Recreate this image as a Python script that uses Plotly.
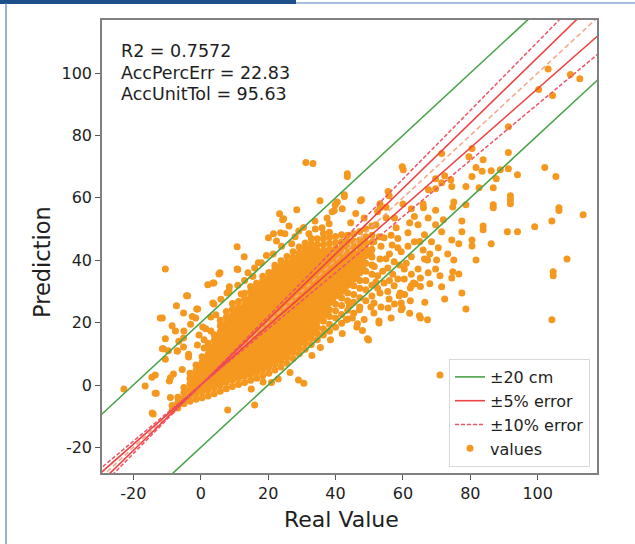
import plotly.graph_objects as go

# ---------------- data ----------------
# dense core of the cloud: (x, [y values]) columns
CORE_COLUMNS = [
    (-8.5, [-8.2, -6.6]),
    (-6.8, [-7.4, -5.6, -3.9]),
    (-5.0, [-6.0, -4.3, -2.5, -0.8]),
    (-3.2, [-5.2, -3.4, -1.6, 0.3, 2.1, 3.8]),
    (-1.4, [-4.6, -2.8, -1.0, 0.9, 2.8, 4.6, 6.4]),
    (0.4, [-4.1, -2.2, -0.3, 1.6, 3.5, 5.4, 7.3, 9.1]),
    (2.2, [-3.5, -1.6, 0.4, 2.3, 4.2, 6.1, 8.0, 9.9, 11.8, 13.4]),
    (4.0, [-2.8, -0.9, 1.0, 2.9, 4.8, 6.7, 8.6, 10.5, 12.4, 14.3, 16.1]),
    (5.8, [-2.0, 0.0, 1.9, 3.8, 5.7, 7.6, 9.5, 11.4, 13.3, 15.2, 17.1, 19.0, 20.8]),
    (7.6, [-1.2, 0.8, 2.7, 4.6, 6.5, 8.4, 10.3, 12.2, 14.1, 16.0, 17.9, 19.8, 21.7, 23.6]),
    (9.4, [-0.5, 1.5, 3.4, 5.3, 7.2, 9.1, 11.0, 12.9, 14.8, 16.7, 18.6, 20.5, 22.4, 24.3, 26.1]),
    (11.2, [0.2, 2.1, 4.0, 5.9, 7.8, 9.7, 11.6, 13.5, 15.4, 17.3, 19.2, 21.1, 23.0, 24.9, 26.8]),
    (13.0, [0.8, 2.8, 4.7, 6.6, 8.5, 10.4, 12.3, 14.2, 16.1, 18.0, 19.9, 21.8, 23.7, 25.6, 27.5, 29.4]),
    (14.8, [1.5, 3.4, 5.3, 7.2, 9.1, 11.0, 12.9, 14.8, 16.7, 18.6, 20.5, 22.4, 24.3, 26.2, 28.1, 30.0, 31.6]),
    (16.6, [2.2, 4.1, 6.0, 7.9, 9.8, 11.7, 13.6, 15.5, 17.4, 19.3, 21.2, 23.1, 25.0, 26.9, 28.8, 30.7, 32.6]),
    (18.4, [3.0, 4.9, 6.8, 8.7, 10.6, 12.5, 14.4, 16.3, 18.2, 20.1, 22.0, 23.9, 25.8, 27.7, 29.6, 31.5, 33.4, 34.9]),
    (20.2, [3.8, 5.7, 7.6, 9.5, 11.4, 13.3, 15.2, 17.1, 19.0, 20.9, 22.8, 24.7, 26.6, 28.5, 30.4, 32.3, 34.2, 36.1]),
    (22.0, [4.8, 6.7, 8.6, 10.5, 12.4, 14.3, 16.2, 18.1, 20.0, 21.9, 23.8, 25.7, 27.6, 29.5, 31.4, 33.3, 35.2, 37.1, 38.4]),
    (23.8, [5.8, 7.7, 9.6, 11.5, 13.4, 15.3, 17.2, 19.1, 21.0, 22.9, 24.8, 26.7, 28.6, 30.5, 32.4, 34.3, 36.2, 38.1, 39.8]),
    (25.6, [7.0, 8.9, 10.8, 12.7, 14.6, 16.5, 18.4, 20.3, 22.2, 24.1, 26.0, 27.9, 29.8, 31.7, 33.6, 35.5, 37.4, 39.3, 41.2]),
    (27.4, [8.5, 10.4, 12.3, 14.2, 16.1, 18.0, 19.9, 21.8, 23.7, 25.6, 27.5, 29.4, 31.3, 33.2, 35.1, 37.0, 38.9, 40.8, 42.7]),
    (29.2, [10.0, 11.9, 13.8, 15.7, 17.6, 19.5, 21.4, 23.3, 25.2, 27.1, 29.0, 30.9, 32.8, 34.7, 36.6, 38.5, 40.4, 42.3, 44.2]),
    (31.0, [11.5, 13.4, 15.3, 17.2, 19.1, 21.0, 22.9, 24.8, 26.7, 28.6, 30.5, 32.4, 34.3, 36.2, 38.1, 40.0, 41.9, 43.8, 45.5]),
    (32.8, [13.0, 15.0, 16.9, 18.8, 20.7, 22.6, 24.5, 26.4, 28.3, 30.2, 32.1, 34.0, 35.9, 37.8, 39.7, 41.6, 43.5, 45.4, 47.0]),
    (34.6, [14.5, 16.5, 18.4, 20.3, 22.2, 24.1, 26.0, 27.9, 29.8, 31.7, 33.6, 35.5, 37.4, 39.3, 41.2, 43.1, 45.0, 46.9]),
    (36.4, [16.0, 18.0, 20.5, 22.2, 24.1, 26.0, 27.9, 29.8, 31.7, 33.6, 35.5, 37.4, 39.3, 41.2, 43.1, 45.0, 46.9, 48.6]),
    (38.2, [17.2, 19.5, 22.0, 24.1, 26.4, 28.3, 30.2, 32.1, 34.0, 35.9, 37.8, 39.7, 41.6, 43.5, 45.4, 47.3, 49.0]),
    (40.0, [18.5, 21.5, 23.8, 26.0, 28.5, 30.4, 32.3, 34.2, 36.1, 38.0, 39.9, 41.8, 43.7, 45.6, 47.6]),
    (41.8, [19.8, 22.6, 25.5, 27.9, 30.0, 32.6, 34.5, 36.4, 38.3, 40.2, 42.1, 44.0, 45.9, 48.2]),
    (43.6, [21.2, 24.0, 27.0, 29.5, 32.0, 34.2, 36.5, 38.4, 40.3, 42.2, 44.1, 46.0, 48.0]),
    (45.4, [23.0, 26.5, 29.0, 31.8, 34.0, 36.5, 38.6, 40.5, 42.4, 44.3, 46.2, 48.5]),
    (47.2, [25.0, 28.0, 31.0, 33.5, 36.0, 38.5, 40.8, 42.7, 44.6, 46.5, 49.2]),
    (49.0, [27.0, 30.5, 33.5, 36.5, 39.0, 41.5, 43.5, 45.5, 47.5, 50.0]),
    (50.8, [28.5, 32.0, 35.5, 38.5, 41.0, 43.5, 45.8, 48.0, 51.0]),
]

# in-between columns where the core is solid orange (interior only)
CORE_FILL_COLUMNS = [
    (-2.3, [-2.0, -0.2, 1.6]),
    (-0.5, [-1.5, 0.4, 2.3, 4.2]),
    (1.3, [-0.9, 1.0, 2.9, 4.8, 6.7, 8.6]),
    (3.1, [-0.3, 1.6, 3.5, 5.4, 7.3, 9.2, 11.1]),
    (4.9, [0.4, 2.3, 4.2, 6.1, 8.0, 9.9, 11.8, 13.7, 15.6]),
    (6.7, [1.1, 3.0, 4.9, 6.8, 8.7, 10.6, 12.5, 14.4, 16.3, 18.2]),
    (8.5, [1.9, 3.8, 5.7, 7.6, 9.5, 11.4, 13.3, 15.2, 17.1, 19.0, 20.9]),
    (10.3, [2.6, 4.5, 6.4, 8.3, 10.2, 12.1, 14.0, 15.9, 17.8, 19.7, 21.6, 23.5]),
    (12.1, [3.2, 5.1, 7.0, 8.9, 10.8, 12.7, 14.6, 16.5, 18.4, 20.3, 22.2, 24.1]),
    (13.9, [3.9, 5.8, 7.7, 9.6, 11.5, 13.4, 15.3, 17.2, 19.1, 21.0, 22.9, 24.8, 26.7]),
    (15.7, [4.6, 6.5, 8.4, 10.3, 12.2, 14.1, 16.0, 17.9, 19.8, 21.7, 23.6, 25.5, 27.4, 29.3]),
    (17.5, [5.4, 7.3, 9.2, 11.1, 13.0, 14.9, 16.8, 18.7, 20.6, 22.5, 24.4, 26.3, 28.2, 30.1, 32.0]),
    (19.3, [6.2, 8.1, 10.0, 11.9, 13.8, 15.7, 17.6, 19.5, 21.4, 23.3, 25.2, 27.1, 29.0, 30.9, 32.8]),
    (21.1, [7.1, 9.0, 10.9, 12.8, 14.7, 16.6, 18.5, 20.4, 22.3, 24.2, 26.1, 28.0, 29.9, 31.8, 33.7, 35.6]),
    (22.9, [8.1, 10.0, 11.9, 13.8, 15.7, 17.6, 19.5, 21.4, 23.3, 25.2, 27.1, 29.0, 30.9, 32.8, 34.7, 36.6]),
    (24.7, [9.2, 11.1, 13.0, 14.9, 16.8, 18.7, 20.6, 22.5, 24.4, 26.3, 28.2, 30.1, 32.0, 33.9, 35.8, 37.7]),
    (26.5, [10.6, 12.5, 14.4, 16.3, 18.2, 20.1, 22.0, 23.9, 25.8, 27.7, 29.6, 31.5, 33.4, 35.3, 37.2, 39.1]),
    (28.3, [12.1, 14.0, 15.9, 17.8, 19.7, 21.6, 23.5, 25.4, 27.3, 29.2, 31.1, 33.0, 34.9, 36.8, 38.7, 40.6]),
    (30.1, [13.6, 15.5, 17.4, 19.3, 21.2, 23.1, 25.0, 26.9, 28.8, 30.7, 32.6, 34.5, 36.4, 38.3, 40.2, 42.1]),
    (31.9, [15.1, 17.0, 18.9, 20.8, 22.7, 24.6, 26.5, 28.4, 30.3, 32.2, 34.1, 36.0, 37.9, 39.8, 41.7, 43.6]),
    (33.7, [16.7, 18.6, 20.5, 22.4, 24.3, 26.2, 28.1, 30.0, 31.9, 33.8, 35.7, 37.6, 39.5, 41.4, 43.3]),
    (35.5, [21.2, 23.1, 25.0, 26.9, 28.8, 30.7, 32.6, 34.5, 36.4, 38.3, 40.2, 42.1]),
    (37.3, [23.0, 25.2, 27.1, 29.0, 30.9, 32.8, 34.7, 36.6, 38.5, 40.4, 42.3]),
    (39.1, [27.4, 29.4, 31.3, 33.2, 35.1, 37.0, 38.9, 40.8]),
    (40.9, [29.2, 31.4, 33.4, 35.3, 37.2, 39.1, 41.0]),
    (42.7, [31.0, 33.3, 35.4, 37.4, 39.3, 41.2]),
    (44.5, [33.0, 35.3, 37.5, 39.5, 41.4]),
    (46.3, [35.0, 37.3, 39.6, 41.7]),
    (48.1, [37.6, 40.0, 42.2]),
]

# scattered points above / left of the core
POINTS_UPPER_LEFT = [
    (-10.5, 37.2), (10.8, 44.3), (12.9, 41.1), (10.8, 37.2), (5.7, 36.0), (2.1, 32.1),
    (3.9, 32.7), (-4.2, 28.6), (-7.2, 25.4), (-11.4, 21.5), (-1.2, 24.4), (3.9, 26.0),
    (7.8, 29.5), (12.0, 29.2), (17.1, 39.2), (20.1, 47.2), (21.6, 48.5), (23.4, 54.9),
    (24.3, 53.0), (23.7, 48.8), (22.5, 46.2), (28.5, 56.2), (35.4, 59.1), (39.0, 55.5),
    (40.5, 58.7), (42.6, 61.0), (33.9, 52.6), (36.0, 50.4), (38.1, 51.7), (32.1, 48.5),
    (29.1, 49.4), (25.0, 48.5), (27.0, 45.3), (18.0, 39.2), (24.6, 53.3), (26.2, 51.0),
    (31.2, 71.3), (33.3, 71.0), (43.5, 67.7), (47.4, 59.1), (55.6, 62.0), (53.2, 58.1),
    (59.8, 70.0), (39.6, 55.9), (11.0, 37.0), (5.4, 35.6), (3.6, 32.7), (8.4, 30.2),
    (-3.9, 28.6), (-5.1, 23.1), (-1.5, 21.5), (0.6, 18.6), (3.0, 17.3), (3.6, 26.3),
    (-12.0, 21.5), (-7.5, 17.3), (-5.1, 15.1), (-10.5, 14.8), (-11.1, 11.6), (-9.6, 11.0),
    (-6.9, 10.9), (-5.1, 12.2), (-3.6, 9.0), (-8.1, 3.5), (-9.0, 2.3), (-13.5, 3.2),
    (-13.5, -2.6), (-14.1, -9.3), (-0.9, 5.5), (-22.8, -1.3), (-13.2, -2.6), (-14.4, -9.0),
    (-9.0, -4.0), (-9.3, 1.3), (-10.5, 8.3), (-11.4, 11.6), (-0.9, 24.4), (-2.5, 22.0),
    (-5.0, 17.3), (-7.0, 10.9), (-3.6, 9.9), (-3.0, 19.5), (3.0, 21.8), (4.5, 22.5),
    (-1.0, 12.8), (1.0, 11.9), (1.0, 14.5), (-0.5, 16.0), (-16.5, -0.3), (-14.5, 2.5),
    (-5.5, 5.0), (-6.5, 14.0), (-8.5, 19.0), (1.5, 18.0), (6.0, 27.5), (8.5, 31.5),
    (14.0, 36.0), (15.5, 34.8), (16.0, 37.5), (19.5, 41.5), (13.0, 33.5), (11.0, 32.0),
    (21.5, 42.0), (24.0, 44.5), (28.0, 47.5), (30.5, 50.5), (34.0, 50.0), (44.5, 52.0),
    (46.0, 55.0), (48.5, 53.5), (42.0, 56.5), (37.5, 53.5),
]

# scattered points below the core near the origin
POINTS_LOWER = [
    (8.0, -8.0), (16.0, -6.4), (15.0, -1.3), (29.0, 1.6), (30.6, 0.6), (23.0, 1.9),
    (21.0, 0.8), (26.5, 4.0), (18.5, 1.0), (33.0, 9.5), (35.5, 12.0), (38.5, 14.5),
    (71.0, 3.2),
]

# medium density region right of the core
POINTS_RIGHT = [
    (64.9, 22.2), (62.2, 27.0), (59.2, 29.5), (59.5, 26.3), (52.9, 20.5), (49.5, 14.8),
    (46.5, 19.6), (55.6, 24.7), (62.2, 31.1), (63.7, 32.5), (65.2, 34.3), (69.7, 37.2),
    (70.0, 40.1), (67.3, 40.1), (65.2, 31.6), (63.1, 32.7), (59.8, 24.7), (65.2, 21.5),
    (67.3, 20.9), (52.9, 19.9), (46.3, 18.6), (49.8, 14.4), (73.3, 42.0), (75.1, 40.1),
    (74.8, 36.3), (74.5, 34.3), (76.6, 35.6), (71.5, 31.5), (77.5, 29.5), (72.4, 27.6),
    (78.7, 24.4), (81.7, 40.1), (80.5, 44.6), (80.5, 46.5), (77.5, 52.6), (77.5, 49.1),
    (74.5, 46.5), (76.6, 45.3), (83.8, 51.0), (83.8, 49.8), (86.2, 45.3), (91.0, 49.1),
    (94.0, 49.1), (99.1, 50.7), (104.2, 52.6), (113.5, 54.6), (106.3, 56.8), (86.8, 57.8),
    (91.9, 59.4), (91.9, 60.7), (108.7, 40.4), (104.6, 36.3), (104.6, 35.0), (104.2, 20.9),
    (47.7, 59.4), (55.0, 57.0), (60.0, 58.0), (63.4, 54.0), (66.0, 58.0), (69.7, 56.0),
    (64.5, 51.4), (55.0, 53.6), (52.0, 51.4), (58.0, 50.4), (61.5, 48.8), (66.4, 48.2),
    (69.7, 51.4), (71.5, 49.1), (68.5, 45.9), (63.4, 45.9), (66.0, 43.3), (62.5, 41.1),
    (59.5, 42.7), (56.8, 44.9), (54.4, 47.2), (51.4, 45.9), (53.2, 40.4), (57.4, 39.5),
    (60.4, 37.2), (64.5, 37.2), (66.4, 40.4), (60.4, 34.0), (57.4, 31.8), (62.5, 31.8),
    (54.4, 32.7), (53.2, 29.5), (58.9, 28.6), (55.9, 27.6), (51.4, 26.3), (59.5, 24.1),
    (51.4, 23.1), (47.1, 24.1), (43.2, 20.9), (44.1, 25.4), (42.0, 16.5), (45.0, 21.5),
    (48.5, 21.0), (56.5, 21.5), (57.0, 35.5), (55.5, 37.5), (52.5, 35.0), (61.5, 44.5),
    (58.5, 47.0), (65.0, 46.0), (68.0, 42.0), (67.5, 36.0), (61.0, 39.0), (56.0, 42.0),
    (53.5, 44.5), (50.5, 42.5), (52.5, 55.5), (57.5, 53.5), (62.0, 52.0), (67.5, 53.5),
    (72.0, 53.0), (70.5, 44.0), (71.0, 35.0), (68.0, 32.5), (66.5, 26.5), (62.0, 23.0),
    (52.5, 31.0), (54.0, 36.5), (55.0, 40.5), (53.0, 47.5), (56.5, 48.0), (58.5, 44.0),
    (55.5, 30.0), (50.5, 25.0), (48.0, 17.5), (53.5, 25.0), (57.5, 26.0), (60.5, 29.0),
    (59.0, 38.5), (62.5, 35.5), (58.5, 34.0), (56.0, 33.5), (51.5, 38.0), (52.0, 33.0),
]

# points in the upper right part of the chart
POINTS_TOP_RIGHT = [
    (43.5, 66.8), (69.7, 66.1), (74.2, 65.8), (72.4, 67.1), (80.5, 66.8), (87.7, 66.1),
    (94.0, 67.4), (102.1, 69.7), (105.4, 66.8), (78.7, 63.6), (82.6, 63.2), (86.8, 63.2),
    (74.5, 63.6), (71.5, 64.8), (69.7, 62.9), (67.6, 62.6), (55.9, 60.7), (42.6, 60.4),
    (91.9, 58.1), (75.1, 58.7), (74.8, 57.1), (86.8, 56.8), (106.3, 55.9), (53.2, 56.8),
    (39.9, 57.8), (62.5, 56.5), (66.1, 56.8), (78.7, 57.8), (60.1, 69.0), (71.5, 74.2),
    (80.5, 75.8), (79.6, 73.2), (91.3, 74.5), (81.7, 69.7), (83.5, 68.5), (86.2, 68.7),
    (88.9, 69.0), (91.3, 69.3), (83.8, 72.2), (91.3, 82.8), (103.1, 101.3), (109.7, 99.5),
    (112.5, 98.2), (100.3, 94.7), (104.4, 92.8),
]

X_TICKS = [-20, 0, 20, 40, 60, 80, 100]
X_TICK_TEXT = ["-20", "0", "20", "40", "60", "80", "100"]
Y_TICKS = [-20, 0, 20, 40, 60, 80, 100]
Y_TICK_TEXT = ["-20", "0", "20", "40", "60", "80", "100"]
X_RANGE = [-29.3, 117.6]
Y_RANGE = [-28.2, 117.0]
LINE_X = [-40, 130]

STATS_TEXT = ["R2 = 0.7572", "AccPercErr = 22.83", "AccUnitTol = 95.63"]

# ---------------- build ----------------
xs, ys = [], []
for columns in (CORE_COLUMNS, CORE_FILL_COLUMNS):
    for cx, col in columns:
        for v in col:
            xs.append(cx)
            ys.append(v)
for group in (POINTS_UPPER_LEFT, POINTS_LOWER, POINTS_RIGHT, POINTS_TOP_RIGHT):
    for px, py in group:
        xs.append(px)
        ys.append(py)

ORANGE = "#f5981f"
GREEN = "#4ba34b"
RED = "#ee4444"
PINK = "#ef5468"
SALMON = "#f5a98f"
TEXT = "#1e1e1e"

FONT = "DejaVu Sans, Verdana, sans-serif"

fig = go.Figure()
fig.add_trace(go.Scatter(
    x=xs, y=ys, mode="markers", name="values",
    marker=dict(color=ORANGE, size=7, line=dict(width=0)),
    legendrank=4,
))


def two_lines(f1, f2):
    lx = LINE_X + [None] + LINE_X
    ly = [f1(v) for v in LINE_X] + [None] + [f2(v) for v in LINE_X]
    return lx, ly


gx, gy = two_lines(lambda v: v + 20, lambda v: v - 20)
fig.add_trace(go.Scatter(x=gx, y=gy, mode="lines", name="±20 cm",
                         line=dict(color=GREEN, width=1.6), legendrank=1))
fig.add_trace(go.Scatter(x=LINE_X, y=list(LINE_X), mode="lines", showlegend=False,
                         line=dict(color=SALMON, width=1.6, dash="5px,3px")))
rx, ry = two_lines(lambda v: v * 1.05, lambda v: v * 0.95)
fig.add_trace(go.Scatter(x=rx, y=ry, mode="lines", name="±5% error",
                         line=dict(color=RED, width=1.6), legendrank=2))
dx, dy = two_lines(lambda v: v * 1.10, lambda v: v * 0.90)
fig.add_trace(go.Scatter(x=dx, y=dy, mode="lines", name="±10% error",
                         line=dict(color=PINK, width=1.5, dash="4px,2px"), legendrank=3))

L, R, T, B = 102, 38, 20, 71
W, H = 635, 544
pw, ph = W - L - R, H - T - B


def px2paper_x(p):
    return (p - L) / pw


def px2paper_y(p):
    return (H - B - p) / ph


axis_common = dict(
    showline=True, mirror=True, linecolor="#808080", linewidth=1.5,
    ticks="outside", ticklen=5, tickwidth=1.2, tickcolor="#555555",
    showgrid=False, zeroline=False,
    tickfont=dict(family=FONT, size=16, color=TEXT),
)

stat_ann = []
for i, line in enumerate(STATS_TEXT):
    stat_ann.append(dict(
        text=line, xref="paper", yref="paper",
        x=px2paper_x(119), y=px2paper_y(51 + 21.7 * i), xanchor="left", yanchor="middle",
        align="left", showarrow=False,
        font=dict(family=FONT, size=17.5, color=TEXT)))

fig.update_layout(
    width=W, height=H,
    margin=dict(l=L, r=R, t=T, b=B, pad=0),
    paper_bgcolor="white", plot_bgcolor="white",
    font=dict(family=FONT, color=TEXT),
    xaxis=dict(range=X_RANGE, tickvals=X_TICKS, ticktext=X_TICK_TEXT, **axis_common),
    yaxis=dict(range=Y_RANGE, tickvals=Y_TICKS, ticktext=Y_TICK_TEXT, **axis_common),
    showlegend=True,
    legend=dict(
        x=px2paper_x(590), y=px2paper_y(467), xanchor="right", yanchor="bottom",
        bgcolor="white", bordercolor="#d9d9d9", borderwidth=1,
        font=dict(family=FONT, size=16, color=TEXT),
        tracegroupgap=0,
    ),
    annotations=stat_ann + [
        dict(text="Real Value", xref="paper", yref="paper",
             x=px2paper_x(341), y=px2paper_y(519), xanchor="center", yanchor="middle",
             showarrow=False, font=dict(family=FONT, size=22, color=TEXT)),
        dict(text="Prediction", xref="paper", yref="paper", textangle=-90,
             x=px2paper_x(42), y=px2paper_y(262), xanchor="center", yanchor="middle",
             showarrow=False, font=dict(family=FONT, size=22.5, color=TEXT)),
    ],
    shapes=[
        dict(type="rect", xref="paper", yref="paper",
             x0=px2paper_x(0), x1=px2paper_x(296), y0=px2paper_y(4), y1=px2paper_y(0),
             fillcolor="#1d4f8a", line=dict(width=0), layer="above"),
        dict(type="line", xref="paper", yref="paper",
             x0=px2paper_x(296), x1=px2paper_x(635), y0=px2paper_y(3), y1=px2paper_y(3),
             line=dict(color="#4f7fb5", width=1.2), layer="above"),
        dict(type="line", xref="paper", yref="paper",
             x0=px2paper_x(6), x1=px2paper_x(6), y0=px2paper_y(3), y1=px2paper_y(544),
             line=dict(color="#4f7fb5", width=1.2), layer="above"),
    ],
)

fig.write_html(
    "out.html",
    config={"displayModeBar": False},
    post_script="document.body.style.margin='0px';",
)
